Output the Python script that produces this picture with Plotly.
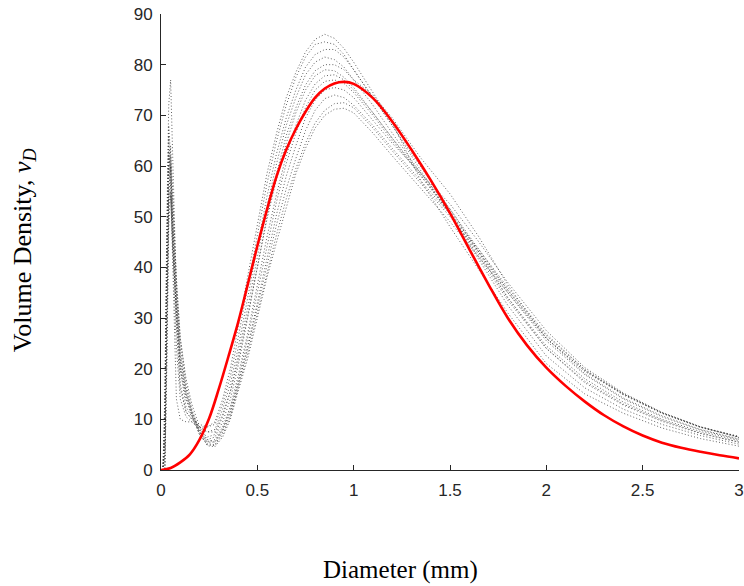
import plotly.graph_objects as go

# ---------------- data ----------------
# fitted (red) curve
fit_x = [0, 0.05, 0.1, 0.15, 0.2, 0.25, 0.3, 0.35, 0.4, 0.45, 0.5, 0.55, 0.6, 0.65,
         0.7, 0.75, 0.8, 0.85, 0.9, 0.95, 1.0, 1.1, 1.2, 1.3, 1.4, 1.5, 1.6, 1.7,
         1.8, 1.9, 2.0, 2.1, 2.2, 2.3, 2.4, 2.5, 2.6, 2.7, 2.8, 2.9, 3.0]
fit_v = [0, 0.4, 1.5, 3.1, 6.0, 10.2, 16.0, 22.4, 29.1, 36.6, 44.2, 51.4, 58.0, 63.2,
         67.3, 70.7, 73.5, 75.3, 76.3, 76.6, 76.2, 73.4, 68.8, 63.2, 57.2, 50.7, 43.6, 36.6,
         30.0, 24.6, 20.2, 16.6, 13.5, 10.8, 8.6, 6.8, 5.4, 4.4, 3.6, 2.9, 2.3]

# measured (dotted grey) distributions, common diameter grid
meas_x = [0.01, 0.02, 0.03, 0.04, 0.05, 0.06, 0.08, 0.10, 0.13, 0.16, 0.20, 0.24,
          0.28, 0.32, 0.36, 0.40, 0.45, 0.50, 0.55, 0.60, 0.65, 0.70, 0.75, 0.80, 0.85,
          0.90, 0.95, 1.00, 1.10, 1.20, 1.35, 1.50, 1.65, 1.80, 2.00, 2.20, 2.40, 2.60,
          2.80, 3.00]

meas_1 = [0, 10, 40, 66, 58, 44, 24, 14, 10.5, 9.5, 8.5, 8.5,
          9.5, 14, 20, 28, 38, 48, 58.5, 66.5, 73.5, 78.5, 82.5, 85, 86,
          85.2, 83.2, 80.5, 74.5, 68.5, 57, 48, 39.5, 31, 21, 15, 11.2, 8.3, 6.2, 4.7]
meas_2 = [0, 0, 25, 55, 60, 50, 30, 17, 11.5, 10, 9, 8.5,
          9, 13, 18.5, 26, 36, 46.5, 56.5, 65, 72, 77.5, 81.5, 84, 84.5,
          84, 82, 79, 73.5, 68, 59, 50.5, 41.5, 32.5, 22.5, 16.2, 12, 9, 6.8, 5.1]
meas_3 = [0, 15, 48, 72, 77, 62, 35, 20, 12.5, 10.5, 8.5, 7.5,
          8, 12, 17, 24, 34, 44, 54, 62.5, 69.5, 75, 79.5, 82, 83,
          83, 81.5, 79, 73.5, 68, 60, 51.5, 43, 34, 24, 17.2, 12.8, 9.6, 7.2, 5.5]
meas_4 = [0, 5, 36, 60, 56, 42, 14, 10, 9.5, 9.5, 8, 6.5,
          7, 10.5, 15.5, 22.5, 32, 42, 52, 60.5, 68, 73.5, 78, 80.5, 81.5,
          81, 79.5, 77, 72, 66.5, 58.5, 50.5, 42, 33.5, 24, 17.5, 13, 9.8, 7.3, 5.5]
meas_5 = [0, 0, 20, 48, 55, 50, 35, 24, 16, 11.5, 7.5, 6,
          6.5, 9.5, 14, 20.5, 30, 40, 50, 58.5, 66, 71.5, 76, 78.8, 80,
          80, 79, 77, 74, 69.5, 61.5, 54.5, 46, 36.5, 26, 19.5, 15, 11.3, 8.5, 6.6]
meas_6 = [0, 12, 45, 68, 62, 48, 28, 16, 11.5, 10, 8.5, 7.5,
          7.5, 11, 15.5, 21.5, 30.5, 40, 49.5, 57.5, 64.5, 70.5, 75, 77.8, 79,
          78.8, 77.5, 75.5, 70.5, 65.5, 58, 50.5, 42.5, 34, 24.5, 18, 13.4, 10, 7.6, 5.8]
meas_7 = [0, 3, 30, 54, 54, 45, 31, 21, 14.5, 11, 7.5, 5.5,
          6, 8.5, 12.5, 18.5, 27, 36.5, 46, 54.5, 62, 68, 73, 76.2, 77.8,
          78, 77, 75, 70.5, 65.5, 58.5, 51.5, 43.5, 35.5, 26, 19, 14.2, 10.7, 8, 6.1]
meas_8 = [0, 8, 40, 62, 60, 50, 34, 23, 15.5, 11.5, 8, 5.5,
          5.5, 8, 12, 17.5, 26, 35, 44.5, 53, 60.5, 66.5, 71.5, 75, 76.7,
          77, 76.3, 74.5, 70, 65, 58, 51, 43, 35, 25.5, 18.8, 14, 10.5, 7.9, 6]
meas_9 = [0, 0, 22, 50, 62, 54, 37, 26, 18, 13, 8.5, 6,
          5.5, 8, 11.5, 17, 24.5, 33, 42, 50.5, 58, 64, 69.5, 73, 75,
          75.5, 75, 73.5, 69, 64.5, 58.5, 52.5, 45, 37, 27.5, 20.2, 15.2, 11.4, 8.5, 6.4]
meas_10 = [0, 10, 42, 63, 58, 46, 30, 20, 14, 10.5, 7, 5.2,
           5, 7.5, 11, 16.5, 24, 32, 40.5, 48.5, 55.5, 61.5, 67, 71, 73.3,
           74, 73.5, 72, 68, 63.5, 57, 50.5, 43.5, 36, 26.8, 19.8, 15, 11.3, 8.5, 6.5]
meas_11 = [0, 4, 32, 55, 54, 45, 32, 22, 15, 11, 7, 5,
           4.8, 7, 10.5, 16, 23, 31, 39, 46.5, 53.5, 59.5, 64.5, 68.5, 71,
           72.3, 72.5, 71.5, 67.5, 63, 56.5, 50, 43, 35.5, 26.5, 19.8, 15, 11.2, 8.4, 6.5]
meas_12 = [0, 6, 36, 58, 64, 55, 38, 26, 17, 12, 7.5, 4.8,
           4.6, 6.5, 10, 15.5, 22, 30, 38, 45, 52, 58.5, 63.5, 67.5, 70,
           71.2, 71.4, 70.5, 66.5, 62, 55.5, 49, 42, 35, 26, 19.5, 14.8, 11.2, 8.5, 6.6]

measured = [meas_1, meas_2, meas_3, meas_4, meas_5, meas_6,
            meas_7, meas_8, meas_9, meas_10, meas_11, meas_12]

x_ticks = [0, 0.5, 1, 1.5, 2, 2.5, 3]
x_tick_labels = ["0", "0.5", "1", "1.5", "2", "2.5", "3"]
y_ticks = [0, 10, 20, 30, 40, 50, 60, 70, 80, 90]

# ---------------- figure ----------------
fig = go.Figure()
for vals in measured:
    fig.add_trace(go.Scatter(
        x=meas_x, y=vals, mode="lines",
        line=dict(color="rgba(60,60,60,0.8)", width=1, dash="1px,2.2px"),
        hoverinfo="skip", showlegend=False))

fig.add_trace(go.Scatter(
    x=fit_x, y=fit_v, mode="lines", line_shape="spline",
    line=dict(color="#ff0000", width=2.6), showlegend=False))

axis_common = dict(
    showgrid=False, zeroline=False, showline=True, linecolor="#262626", linewidth=1,
    ticks="inside", ticklen=5, tickwidth=1, tickcolor="#262626",
    tickfont=dict(family="Liberation Sans, Arial, sans-serif", size=17, color="#262626"),
    mirror=False, automargin=False,
)

fig.update_layout(
    width=744, height=586,
    margin=dict(l=161, r=5, t=14, b=116, autoexpand=False),
    paper_bgcolor="white", plot_bgcolor="white",
    xaxis=dict(range=[0, 3], tickvals=x_ticks, ticktext=x_tick_labels,
               ticklabelstandoff=5, **axis_common),
    yaxis=dict(range=[0, 90], tickvals=y_ticks, ticklabelstandoff=4, **axis_common),
    annotations=[
        dict(text="Diameter (mm)", xref="paper", yref="paper",
             x=0.415, y=-0.219, xanchor="center", yanchor="middle", showarrow=False,
             font=dict(family="Liberation Serif, Times New Roman, serif", size=25, color="black")),
        dict(text="Volume Density, <i>v</i><sub><i>D</i></sub>", xref="paper", yref="paper",
             x=-0.237, y=0.482, xanchor="center", yanchor="middle", showarrow=False,
             textangle=-90,
             font=dict(family="Liberation Serif, Times New Roman, serif", size=26, color="black")),
    ],
)

fig.write_html("out.html", config={"displayModeBar": False},
               post_script="document.body.style.margin='0';document.body.style.overflow='hidden';")
